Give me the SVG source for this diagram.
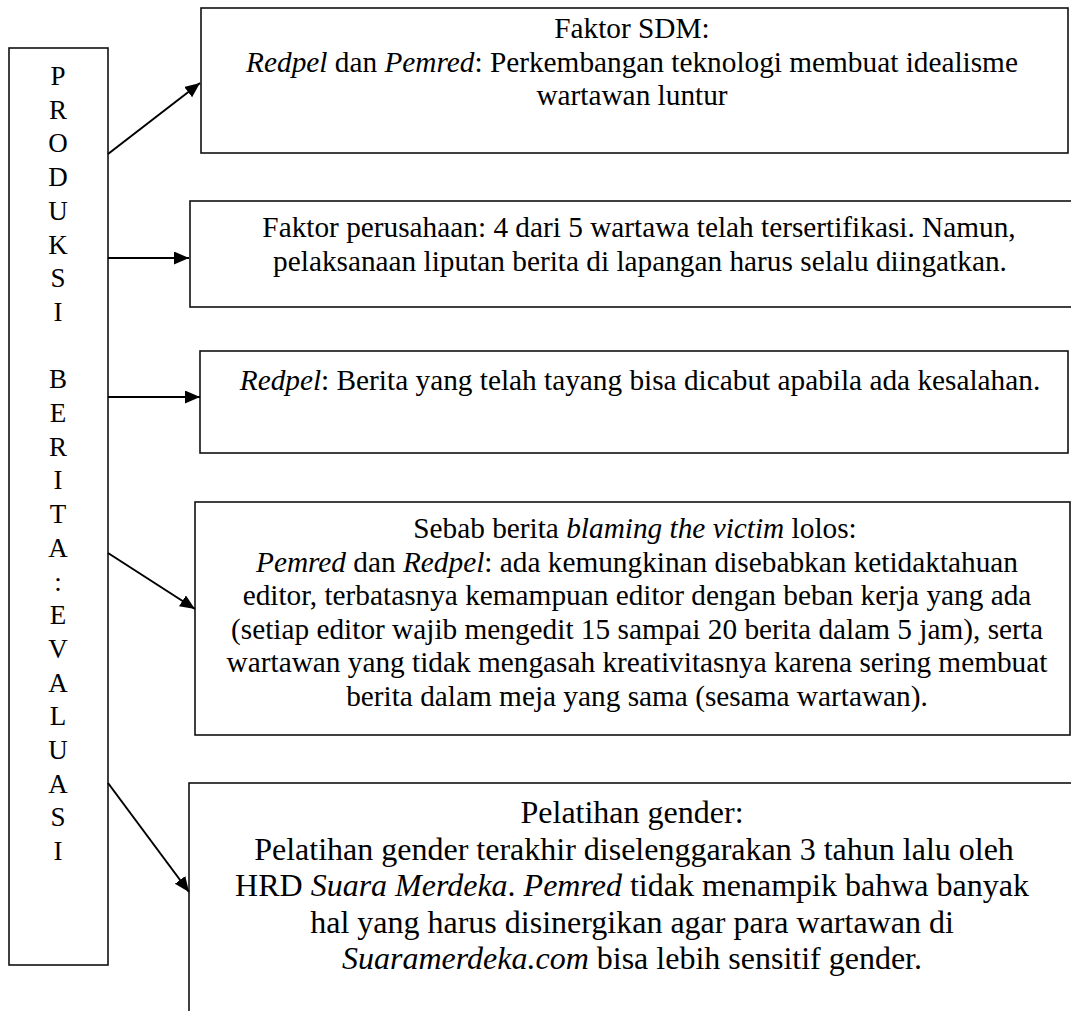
<svg xmlns="http://www.w3.org/2000/svg" width="1071" height="1011" viewBox="0 0 1071 1011">
<defs>
<style>
.box{fill:#fff;stroke:#111;stroke-width:1.6}
.t{font-family:"Liberation Serif","Times New Roman",serif;font-size:29.3px;fill:#000;text-anchor:middle}
.t5{font-family:"Liberation Serif","Times New Roman",serif;font-size:32px;fill:#000;text-anchor:middle}
.v{font-family:"Liberation Serif","Times New Roman",serif;font-size:27px;fill:#000;text-anchor:middle}
.i{font-style:italic}
.c{stroke:#000;stroke-width:2;fill:none}
</style>
<marker id="ah" markerUnits="userSpaceOnUse" markerWidth="16" markerHeight="14" refX="15" refY="6.5" orient="auto">
<path d="M0,0 L15,6.5 L0,13 z" fill="#000"/>
</marker>
</defs>
<rect width="1071" height="1011" fill="#fff"/>

<g id="node-produksi">
<rect class="box" x="9" y="48" width="99" height="917"/>
<text class="v" x="58" y="85">P</text>
<text class="v" x="58" y="118.7">R</text>
<text class="v" x="58" y="152.4">O</text>
<text class="v" x="58" y="186.1">D</text>
<text class="v" x="58" y="219.8">U</text>
<text class="v" x="58" y="253.5">K</text>
<text class="v" x="58" y="287.2">S</text>
<text class="v" x="58" y="320.9">I</text>
<text class="v" x="58" y="388.3">B</text>
<text class="v" x="58" y="422">E</text>
<text class="v" x="58" y="455.7">R</text>
<text class="v" x="58" y="489.4">I</text>
<text class="v" x="58" y="523.1">T</text>
<text class="v" x="58" y="556.8">A</text>
<text class="v" x="58" y="590.5">:</text>
<text class="v" x="58" y="624.2">E</text>
<text class="v" x="58" y="657.9">V</text>
<text class="v" x="58" y="691.6">A</text>
<text class="v" x="58" y="725.3">L</text>
<text class="v" x="58" y="759">U</text>
<text class="v" x="58" y="792.7">A</text>
<text class="v" x="58" y="826.4">S</text>
<text class="v" x="58" y="860.1">I</text>
</g>

<g id="node-sdm">
<rect class="box" x="201" y="8" width="867" height="145"/>
<text class="t" x="632" y="38">Faktor SDM:</text>
<text class="t" x="632" y="72"><tspan class="i">Redpel</tspan> dan <tspan class="i">Pemred</tspan>: Perkembangan teknologi membuat idealisme</text>
<text class="t" x="632" y="105">wartawan luntur</text>
</g>

<g id="node-perusahaan">
<rect class="box" x="190" y="201" width="885" height="106"/>
<text class="t" x="639" y="237">Faktor perusahaan: 4 dari 5 wartawa telah tersertifikasi. Namun,</text>
<text class="t" x="640" y="271">pelaksanaan liputan berita di lapangan harus selalu diingatkan.</text>
</g>

<g id="node-redpel">
<rect class="box" x="200" y="351" width="868" height="102"/>
<text class="t" x="640" y="390"><tspan class="i">Redpel</tspan>: Berita yang telah tayang bisa dicabut apabila ada kesalahan.</text>
</g>

<g id="node-sebab">
<rect class="box" x="195" y="502" width="875" height="233"/>
<text class="t" x="635" y="538">Sebab berita <tspan class="i">blaming the victim</tspan> lolos:</text>
<text class="t" x="637" y="571.5"><tspan class="i">Pemred</tspan> dan <tspan class="i">Redpel</tspan>: ada kemungkinan disebabkan ketidaktahuan</text>
<text class="t" x="637" y="605">editor, terbatasnya kemampuan editor dengan beban kerja yang ada</text>
<text class="t" x="637" y="638.5">(setiap editor wajib mengedit 15 sampai 20 berita dalam 5 jam), serta</text>
<text class="t" x="637" y="672">wartawan yang tidak mengasah kreativitasnya karena sering membuat</text>
<text class="t" x="637" y="706">berita dalam meja yang sama (sesama wartawan).</text>
</g>

<g id="node-pelatihan">
<rect class="box" x="189" y="783" width="890" height="240"/>
<text class="t5" x="632" y="823">Pelatihan gender:</text>
<text class="t5" x="634" y="859.5">Pelatihan gender terakhir diselenggarakan 3 tahun lalu oleh</text>
<text class="t5" x="632" y="896">HRD <tspan class="i">Suara Merdeka</tspan>. <tspan class="i">Pemred</tspan> tidak menampik bahwa banyak</text>
<text class="t5" x="632" y="932.5">hal yang harus disinergikan agar para wartawan di</text>
<text class="t5" x="632" y="969"><tspan class="i">Suaramerdeka.com</tspan> bisa lebih sensitif gender.</text>
</g>

<g id="connectors">
<line class="c" x1="108" y1="154" x2="200" y2="83" marker-end="url(#ah)"/>
<line class="c" x1="108" y1="258" x2="189" y2="258" marker-end="url(#ah)"/>
<line class="c" x1="108" y1="397" x2="200" y2="397" marker-end="url(#ah)"/>
<line class="c" x1="108" y1="553" x2="195" y2="609" marker-end="url(#ah)"/>
<line class="c" x1="108" y1="783" x2="189" y2="892" marker-end="url(#ah)"/>
</g>
</svg>
